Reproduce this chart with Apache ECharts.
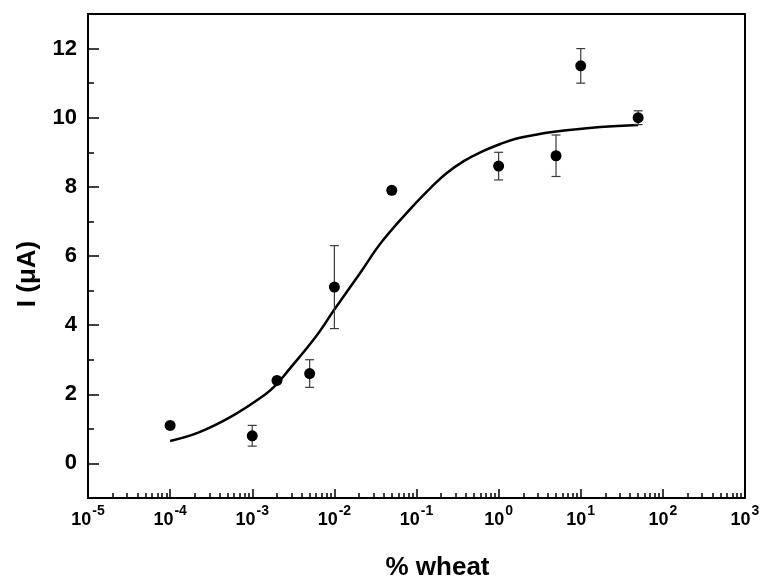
<!DOCTYPE html>
<html>
<head>
<meta charset="utf-8">
<script src="https://cdn.jsdelivr.net/npm/echarts@6/dist/echarts.min.js"></script>
<style>
  html, body { margin: 0; padding: 0; background: #ffffff; }
  #chart { width: 763px; height: 583px; }
</style>
</head>
<body>
<div id="chart"></div>
<script>
// Measured concentrations (% wheat), mean current (µA) and standard deviation
const wheatPercent = [1e-4, 1e-3, 2e-3, 5e-3, 1e-2, 5e-2, 1, 5, 10, 50];
const currentMean  = [1.1, 0.8, 2.4, 2.6, 5.1, 7.9, 8.6, 8.9, 11.5, 10.0];
const currentSd    = [0.05, 0.3, 0.05, 0.4, 1.2, 0.08, 0.4, 0.6, 0.5, 0.2];

// Fitted dose-response curve, sampled along its length
const fitX = [1e-4, 2.2e-4, 5.6e-4, 1.45e-3, 2.0e-3, 2.6e-3, 6.0e-3, 1.0e-2, 2.06e-2,
              3.8e-2, 9.1e-2, 0.15, 0.234, 0.38, 0.6, 1.05, 1.66, 2.7, 4.27, 17.4, 50];
const fitY = [0.65, 0.89, 1.36, 2.0, 2.3, 2.62, 3.68, 4.45, 5.51,
              6.42, 7.45, 7.98, 8.4, 8.75, 9.0, 9.24, 9.4, 9.5, 9.58, 9.73, 9.79];

// Axis ticks
const xMajorTicks = [1e-5, 1e-4, 1e-3, 1e-2, 1e-1, 1, 10, 100, 1000];
const xMinorMultipliers = [2, 3, 4, 5, 6, 7, 8, 9];
const yMajorTicks = [0, 2, 4, 6, 8, 10, 12];
const yMinorTicks = [1, 3, 5, 7, 9, 11];

const xMinorTicks = [];
xMajorTicks.slice(0, -1).forEach(d => xMinorMultipliers.forEach(m => xMinorTicks.push(+(d * m).toPrecision(3))));

const FONT = '"Liberation Sans", Arial, sans-serif';
const chart = echarts.init(document.getElementById('chart'), null, { renderer: 'canvas' });

const xRange = { min: 1e-5, max: 1e3 };
const yRange = { min: -1, max: 13 };

chart.setOption({
  animation: false,
  backgroundColor: '#ffffff',
  grid: {
    left: 88, right: 18, top: 14, bottom: 85,
    outerBoundsMode: 'none', containLabel: false,
    show: true, borderColor: '#000', borderWidth: 2, backgroundColor: 'transparent'
  },
  xAxis: [
    {
      type: 'log', logBase: 10, position: 'bottom', ...xRange,
      name: '% wheat', nameLocation: 'middle', nameGap: 57,
      nameTextStyle: { fontFamily: FONT, fontWeight: 'bold', fontSize: 26, color: '#000', padding: [0, 0, 0, 42] },
      axisLine: { show: true, onZero: false, lineStyle: { color: '#000', width: 2 } },
      axisTick: { show: true, inside: true, length: 9, customValues: xMajorTicks, lineStyle: { color: '#000', width: 1.5 } },
      axisLabel: {
        show: true, margin: 6, customValues: xMajorTicks,
        formatter: v => '{b|10}{s|' + Math.round(Math.log10(v)) + '}',
        rich: {
          b: { fontFamily: FONT, fontWeight: 'bold', fontSize: 18, color: '#000', verticalAlign: 'bottom' },
          s: { fontFamily: FONT, fontWeight: 'bold', fontSize: 14, color: '#000', verticalAlign: 'top', padding: [0, 0, 11, 1] }
        }
      },
      splitLine: { show: false }, minorTick: { show: false }
    },
    {
      type: 'log', logBase: 10, position: 'bottom', ...xRange,
      axisLine: { show: false, onZero: false },
      axisTick: { show: true, inside: true, length: 5, customValues: xMinorTicks, lineStyle: { color: '#000', width: 1.5 } },
      axisLabel: { show: false },
      splitLine: { show: false }
    }
  ],
  yAxis: [
    {
      type: 'value', position: 'left', ...yRange,
      name: 'I (μA)', nameLocation: 'middle', nameGap: 47, nameRotate: 90,
      nameTextStyle: { fontFamily: FONT, fontWeight: 'bold', fontSize: 26, color: '#000', padding: [0, 36, 0, 0] },
      axisLine: { show: true, onZero: false, lineStyle: { color: '#000', width: 2 } },
      axisTick: { show: true, inside: true, length: 11, customValues: yMajorTicks, lineStyle: { color: '#000', width: 1.5 } },
      axisLabel: {
        show: true, margin: 11, customValues: yMajorTicks,
        fontFamily: FONT, fontWeight: 'bold', fontSize: 22, color: '#000'
      },
      splitLine: { show: false }
    },
    {
      type: 'value', position: 'left', ...yRange,
      axisLine: { show: false, onZero: false },
      axisTick: { show: true, inside: true, length: 6, customValues: yMinorTicks, lineStyle: { color: '#000', width: 1.5 } },
      axisLabel: { show: false },
      splitLine: { show: false }
    }
  ],
  series: [
    {
      name: 'fit', type: 'line', xAxisIndex: 0, yAxisIndex: 0,
      data: fitX.map((x, i) => [x, fitY[i]]),
      showSymbol: false, smooth: 0.4,
      lineStyle: { color: '#000', width: 2.5 }, z: 3
    },
    {
      name: 'sd', type: 'custom', xAxisIndex: 0, yAxisIndex: 0,
      data: wheatPercent.map((x, i) => [x, currentMean[i] - currentSd[i], currentMean[i] + currentSd[i]]),
      encode: { x: 0, y: [1, 2] },
      renderItem(params, api) {
        const x = api.value(0);
        const lo = api.coord([x, api.value(1)]);
        const hi = api.coord([x, api.value(2)]);
        const w = 4.5;
        const style = { stroke: '#3a3a3a', lineWidth: 1.2 };
        return {
          type: 'group',
          children: [
            { type: 'line', shape: { x1: lo[0], y1: lo[1], x2: hi[0], y2: hi[1] }, style },
            { type: 'line', shape: { x1: lo[0] - w, y1: lo[1], x2: lo[0] + w, y2: lo[1] }, style },
            { type: 'line', shape: { x1: hi[0] - w, y1: hi[1], x2: hi[0] + w, y2: hi[1] }, style }
          ]
        };
      },
      z: 4
    },
    {
      name: 'mean', type: 'scatter', xAxisIndex: 0, yAxisIndex: 0,
      data: wheatPercent.map((x, i) => [x, currentMean[i]]),
      symbol: 'circle', symbolSize: 11,
      itemStyle: { color: '#000', opacity: 1 }, z: 5
    }
  ]
});
</script>
</body>
</html>
